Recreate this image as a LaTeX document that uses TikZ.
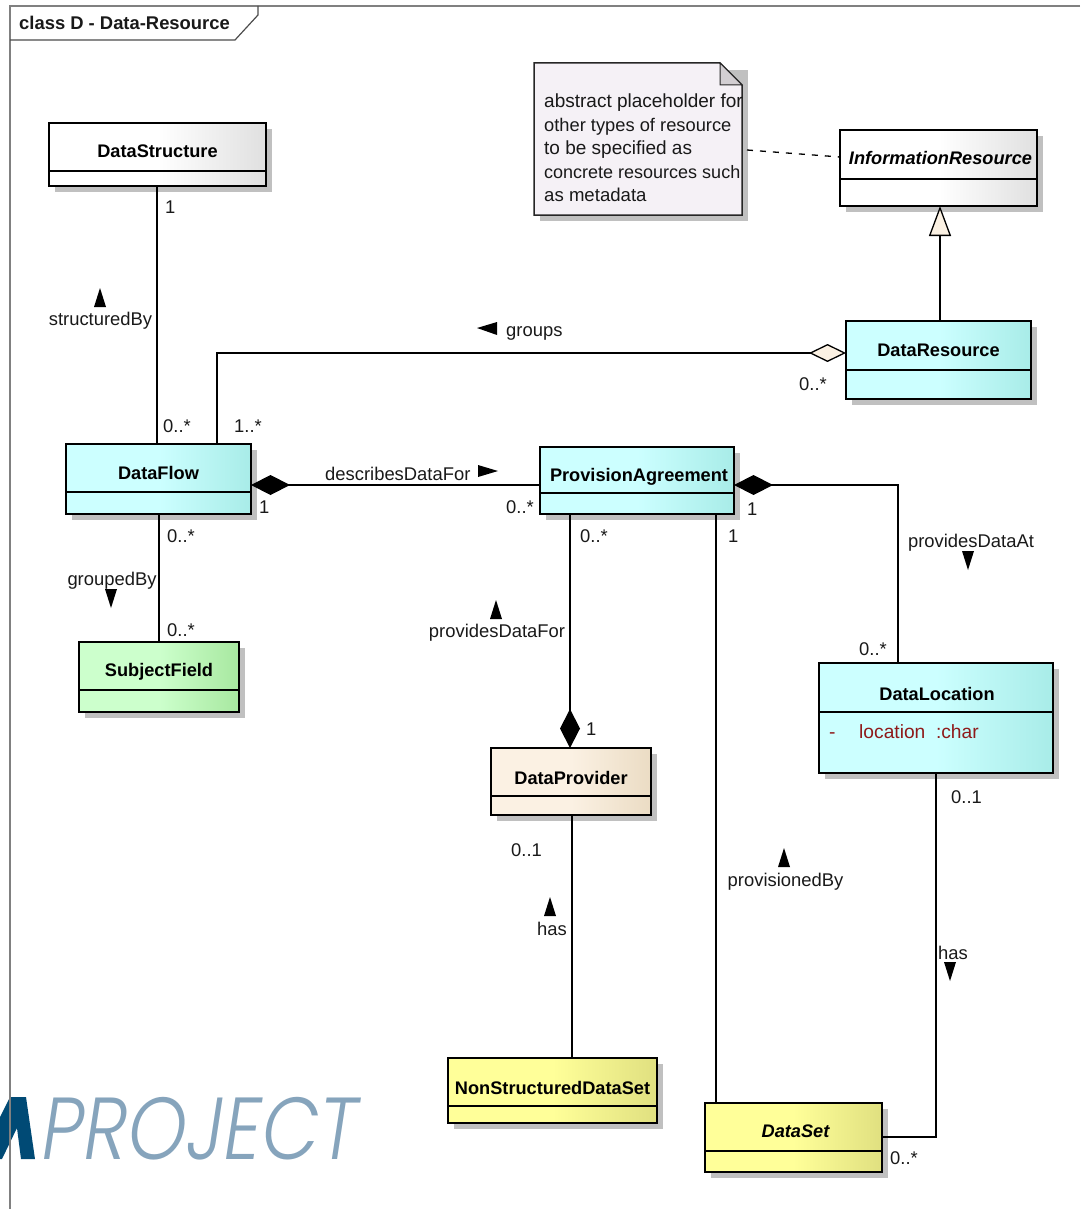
\documentclass[tikz,border=0pt]{standalone}
\usepackage{fontspec}
\setmainfont{Liberation Sans}
\newfontfamily\logofont[FakeSlant=0.18]{Poppins Light}
\usetikzlibrary{arrows.meta,calc}
\definecolor{framec}{HTML}{808080}
\definecolor{shadowc}{HTML}{C0C0C0}
\definecolor{notec}{HTML}{F5F1F6}
\definecolor{foldc}{HTML}{D2CED2}
\definecolor{attrc}{HTML}{8F1A1A}
\definecolor{logolight}{HTML}{86A4BC}
\definecolor{logodark}{HTML}{004A75}
\definecolor{cyana}{HTML}{CCFFFF}\definecolor{cyanb}{HTML}{A8ECE8}
\definecolor{greena}{HTML}{CCFFCC}\definecolor{greenb}{HTML}{A8E8A0}
\definecolor{tana}{HTML}{FBF1E3}\definecolor{tanb}{HTML}{EBDCC4}
\definecolor{yella}{HTML}{FFFF99}\definecolor{yellb}{HTML}{E0E080}
\definecolor{greyb}{HTML}{E0E0E0}
\newcommand{\umlclass}[9][]{%
  \fill[shadowc] (#3+5.5,#4+6) rectangle (#5+6,#7+6);
  \node[classbox,#8,minimum width={(#5-#3)*1pt},minimum height={(#7-#4)*1pt}] (#2) at ({(#3+#5)/2},{(#4+#7)/2}) {};
  \draw[sepline] (#3,#6) -- (#5,#6);
  \node[classlabel,#1] (#2label) at ({(#3+#5)/2},{(#4+#6)/2}) {#9};
}
\newcommand{\fsz}[1]{\fontsize{#1}{23.5}\selectfont}
\tikzset{
  x=1pt,y=-1pt,
  classbox/.style={draw=black,line width=1.5pt,inner sep=0pt,outer sep=0pt},
  sepline/.style={black,line width=1.2pt},
  classlabel/.style={font=\fontsize{18.2}{20}\selectfont\bfseries,inner sep=0pt},
  italiclabel/.style={font=\fontsize{18.2}{20}\selectfont\bfseries\itshape},
  greyfill/.style={left color=white,right color=greyb,middle color=white},
  cyanfill/.style={left color=cyana,right color=cyanb,middle color=cyana},
  greenfill/.style={left color=greena,right color=greenb,middle color=greena},
  tanfill/.style={left color=tana,right color=tanb,middle color=tana},
  yellowfill/.style={left color=yella,right color=yellb,middle color=yella},
  conn/.style={draw=black,line width=1.5pt},
  hollowdia/.style={{Diamond[length=37pt,width=18pt,open,fill=tana,line width=1.3pt]}-},
  solidrev/.style={{Diamond[length=39pt,width=20pt,fill=black]}-},
  inherit/.style={{Triangle[length=30pt,width=22pt,fill=tana,line width=1.3pt]}-},
  lab/.style={font=\fontsize{18.4}{20}\selectfont,inner sep=0pt,text=black!90,yshift=-1pt},
  mult/.style={font=\fontsize{18.4}{20}\selectfont,inner sep=0pt,text=black!90,anchor=west},
  attrtext/.style={font=\fontsize{19.2}{20}\selectfont,inner sep=0pt,text=attrc,anchor=base west},
  dirmark/.style={fill=black},
}
\begin{document}
\begin{tikzpicture}
\useasboundingbox (0,0) rectangle (1080,1209);
% logo
\fill[logodark] (10,1097) -- (26,1097) -- (35,1159) -- (21,1159) -- (17,1128) -- (2,1159) -- (0,1159) -- (0,1117) -- cycle;
\node[inner sep=0pt,anchor=west,text=logolight,xscale=0.85,font=\logofont\fontsize{88}{90}\selectfont] (logo) at (38,1129) {PROJECT};
% frame
\draw[framec,line width=1.4pt] (1080,6) -- (10,6) -- (10,1209);
\draw[black!70,line width=1.2pt] (258,6) -- (258,15) -- (235,40) -- (10,40);
\node[font=\fontsize{18.4}{20}\selectfont\bfseries,anchor=west,inner sep=0pt,text=black!90] (frametitle) at (19,23) {class D - Data-Resource};
% classes
\umlclass[yshift=-4pt]{ds}{49}{123}{266}{171}{186}{greyfill}{DataStructure}
\umlclass[italiclabel,yshift=-3pt,xshift=2pt]{ir}{840}{130}{1037}{179}{206}{greyfill}{InformationResource}
\umlclass[yshift=-5pt]{dr}{846}{321}{1031}{370}{399}{cyanfill}{DataResource}
\umlclass[yshift=-5pt]{df}{66}{444}{251}{492}{514}{cyanfill}{DataFlow}
\umlclass[yshift=-7pt,xshift=2pt]{pa}{540}{447}{734}{493}{514}{cyanfill}{ProvisionAgreement}
\umlclass[yshift=-6pt]{sf}{79}{642}{239}{690}{712}{greenfill}{SubjectField}
\umlclass[yshift=-6pt]{dp}{491}{748}{651}{796}{815}{tanfill}{DataProvider}
\umlclass[yshift=-6pt,xshift=1pt]{dl}{819}{663}{1053}{712}{773}{cyanfill}{DataLocation}
\umlclass[yshift=-6pt]{ns}{448}{1058}{657}{1106}{1123}{yellowfill}{NonStructuredDataSet}
\umlclass[italiclabel,yshift=-4pt,xshift=2pt]{dset}{705}{1103}{882}{1151}{1172}{yellowfill}{DataSet}
\node[attrtext] (attrdash) at (829,738) {-};
\node[attrtext] (attr) at (859,738) {location\ \ :char};
% note
\fill[shadowc] (540,70) -- (748,70) -- (748,221) -- (540,221) -- cycle;
\node[minimum width=208pt,minimum height=152pt,inner sep=0pt,outer sep=0pt] (note) at (638,139) {};
\fill[notec,draw=black!85,line width=1.5pt] (534,63) -- (720,63) -- (742,85) -- (742,215) -- (534,215) -- cycle;
\fill[foldc,draw=black!85,line width=1pt] (720,63) -- (742,85) -- (720,85) -- cycle;
\node[lab,anchor=north west,align=left,font=\fsz{19}] (notetext) at (544,93) {\fsz{19}abstract placeholder for\\\fsz{18.3}other types of resource\\\fsz{19}to be specified as\\\fsz{18}concrete resources such\\\fsz{18.6}as metadata};
% connectors
\draw[conn] ([xshift=-0.5pt]ds.south) -- ([xshift=-0.5pt]ds.south |- df.north);
\draw[conn,hollowdia] ([yshift=7pt]dr.west) -| ([xshift=58.5pt]df.north);
\draw[conn,solidrev] ([yshift=-6pt]df.east) -- ([yshift=-4.5pt]pa.west);
\draw[conn,solidrev] ([yshift=-4.5pt]pa.east) -| ([xshift=-38pt]dl.north);
\draw[conn] ([xshift=0.5pt]df.south) -- ([xshift=0.5pt]df.south |- sf.north);
\draw[conn,solidrev] ([xshift=-1pt]dp.north) -- ([xshift=-1pt]dp.north |- pa.south);
\draw[conn] ([xshift=1pt]dp.south) -- ([xshift=1pt]dp.south |- ns.north);
\draw[conn] ([xshift=-18pt]pa.south east) -- ([xshift=-18pt]pa.south east |- dset.north);
\draw[conn] (dl.south) |- ([yshift=0.5pt]dset.east);
\draw[conn,inherit] ([xshift=1.5pt]ir.south) -- ([xshift=1.5pt]ir.south |- dr.north);
\draw[black,line width=1.3pt,dash pattern=on 6pt off 7pt] ([xshift=5pt,yshift=-11pt]note.east) -- ([yshift=11pt]ir.west);
% direction markers
\fill[dirmark] (100,288) -- (106,307) -- (94,307) -- cycle;
\fill[dirmark] (477,328) -- (497,322) -- (497,335) -- cycle;
\fill[dirmark] (498,471) -- (478,465) -- (478,477) -- cycle;
\fill[dirmark] (111,608) -- (105,589) -- (117,589) -- cycle;
\fill[dirmark] (496,600) -- (502,619) -- (490,619) -- cycle;
\fill[dirmark] (968,570) -- (962,551) -- (974,551) -- cycle;
\fill[dirmark] (784,848) -- (790,867) -- (778,867) -- cycle;
\fill[dirmark] (550,897) -- (556,916) -- (544,916) -- cycle;
\fill[dirmark] (950,981) -- (944,962) -- (956,962) -- cycle;
% labels
\node[lab] (l1) at (100.5,320) {structuredBy};
\node[lab,anchor=west] (l2) at (506,332) {groups};
\node[lab,anchor=west] (l3) at (325,473) {describesDataFor};
\node[lab] (l4) at (112,580) {groupedBy};
\node[lab] (l5) at (497,632) {providesDataFor};
\node[lab] (l6) at (971,542) {providesDataAt};
\node[lab] (l7) at (785.5,881) {provisionedBy};
\node[lab] (l8) at (552,928) {has};
\node[lab] (l9) at (953,952) {has};
\node[mult] (m1) at (165,207) {1};
\node[mult] (m2) at (163,426) {0..*};
\node[mult] (m3) at (234,426) {1..*};
\node[mult] (m4) at (799,384) {0..*};
\node[mult] (m5) at (259,507) {1};
\node[mult] (m6) at (506,507) {0..*};
\node[mult] (m7) at (167,536) {0..*};
\node[mult] (m8) at (167,630) {0..*};
\node[mult] (m9) at (580,536) {0..*};
\node[mult] (m10) at (586,729) {1};
\node[mult] (m11) at (728,536) {1};
\node[mult] (m12) at (747,509) {1};
\node[mult] (m13) at (859,649) {0..*};
\node[mult] (m14) at (951,797) {0..1};
\node[mult] (m15) at (511,850) {0..1};
\node[mult] (m16) at (890,1158) {0..*};
\end{tikzpicture}
\end{document}
